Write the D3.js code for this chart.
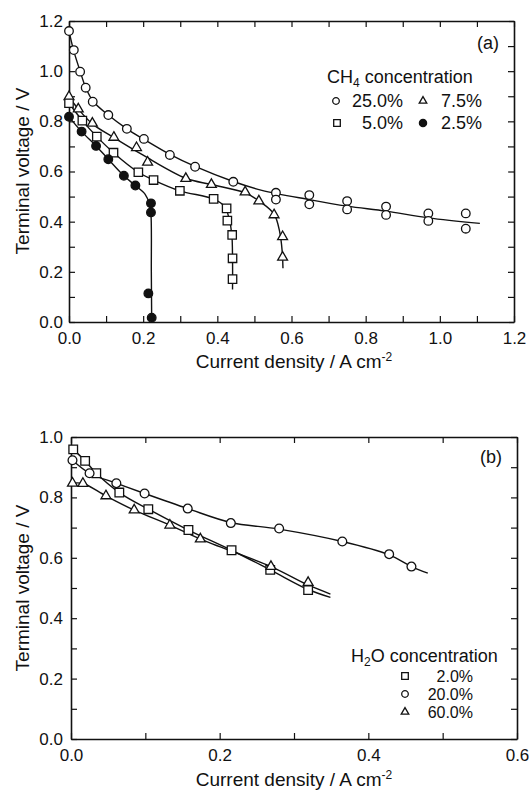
<!DOCTYPE html>
<html>
<head>
<meta charset="utf-8">
<script src="https://cdn.jsdelivr.net/npm/d3@7/dist/d3.min.js"></script>
<style>
body { margin: 0; background: #fff; }
text { font-family: "Liberation Sans", Arial, Helvetica, sans-serif; fill: #111; }
</style>
</head>
<body>
<script>
// ---- panel (a): CH4 concentration ----
var a250x = [0.0, 0.013, 0.030, 0.045, 0.064, 0.106, 0.156, 0.202, 0.272, 0.340, 0.443,
             0.558, 0.558, 0.648, 0.648, 0.750, 0.750, 0.855, 0.855, 0.969, 0.969, 1.070, 1.070];
var a250y = [1.160, 1.084, 0.998, 0.934, 0.878, 0.825, 0.770, 0.730, 0.666, 0.619, 0.559,
             0.515, 0.488, 0.506, 0.469, 0.482, 0.449, 0.460, 0.427, 0.433, 0.403, 0.433, 0.372];
var a250fitx = [0.0, 0.013, 0.030, 0.045, 0.065, 0.106, 0.156, 0.202, 0.272, 0.340, 0.443, 0.520, 0.648, 0.750, 0.855, 0.969, 1.108];
var a250fity = [1.160, 1.080, 1.000, 0.935, 0.880, 0.825, 0.770, 0.728, 0.668, 0.620, 0.560, 0.525, 0.488, 0.462, 0.442, 0.415, 0.393];

var a75x = [0.0, 0.025, 0.063, 0.121, 0.182, 0.212, 0.315, 0.384, 0.475, 0.512, 0.553, 0.576, 0.576];
var a75y = [0.898, 0.849, 0.792, 0.736, 0.695, 0.637, 0.572, 0.548, 0.518, 0.482, 0.427, 0.340, 0.258];
var a75fitx = [0.0, 0.025, 0.063, 0.121, 0.200, 0.315, 0.384, 0.475, 0.515, 0.553, 0.568, 0.575, 0.577];
var a75fity = [0.898, 0.849, 0.790, 0.735, 0.665, 0.573, 0.548, 0.515, 0.480, 0.430, 0.360, 0.280, 0.214];

var a50x = [0.0, 0.036, 0.075, 0.120, 0.187, 0.228, 0.299, 0.390, 0.425, 0.427, 0.440, 0.441, 0.441];
var a50y = [0.872, 0.803, 0.739, 0.675, 0.597, 0.566, 0.523, 0.491, 0.453, 0.404, 0.347, 0.254, 0.171];
var a50fitx = [0.0, 0.036, 0.075, 0.120, 0.187, 0.228, 0.299, 0.390, 0.420, 0.432, 0.439, 0.441, 0.441];
var a50fity = [0.872, 0.803, 0.739, 0.675, 0.597, 0.566, 0.523, 0.490, 0.460, 0.410, 0.350, 0.250, 0.130];

var a25x = [0.0, 0.034, 0.073, 0.106, 0.148, 0.179, 0.221, 0.221, 0.214, 0.223];
var a25y = [0.818, 0.759, 0.702, 0.649, 0.583, 0.544, 0.473, 0.437, 0.114, 0.017];
var a25fitx = [0.0, 0.034, 0.073, 0.106, 0.148, 0.179, 0.205, 0.217, 0.221, 0.222, 0.223];
var a25fity = [0.818, 0.759, 0.702, 0.649, 0.583, 0.544, 0.510, 0.470, 0.430, 0.200, 0.0];

var aXTicks = [0, 0.1, 0.2, 0.3, 0.4, 0.5, 0.6, 0.7, 0.8, 0.9, 1.0, 1.1, 1.2];
var aXLabels = ['0.0', '', '0.2', '', '0.4', '', '0.6', '', '0.8', '', '1.0', '', '1.2'];
var aYTicks = [0, 0.1, 0.2, 0.3, 0.4, 0.5, 0.6, 0.7, 0.8, 0.9, 1.0, 1.1, 1.2];
var aYLabels = ['0.0', '', '0.2', '', '0.4', '', '0.6', '', '0.8', '', '1.0', '', '1.2'];

// ---- panel (b): H2O concentration ----
var b2x = [0.003, 0.019, 0.034, 0.065, 0.104, 0.158, 0.216, 0.268, 0.319];
var b2y = [0.959, 0.921, 0.880, 0.816, 0.761, 0.692, 0.625, 0.560, 0.493];
var b2fitx = [0.003, 0.019, 0.034, 0.065, 0.104, 0.158, 0.216, 0.268, 0.319, 0.349];
var b2fity = [0.959, 0.921, 0.880, 0.816, 0.761, 0.692, 0.625, 0.560, 0.495, 0.469];

var b20x = [0.002, 0.025, 0.061, 0.099, 0.157, 0.215, 0.280, 0.365, 0.428, 0.458];
var b20y = [0.923, 0.880, 0.847, 0.813, 0.763, 0.715, 0.697, 0.654, 0.612, 0.571];
var b20fitx = [0.002, 0.025, 0.061, 0.099, 0.157, 0.215, 0.280, 0.365, 0.428, 0.458, 0.480];
var b20fity = [0.923, 0.880, 0.847, 0.813, 0.763, 0.717, 0.695, 0.654, 0.610, 0.571, 0.549];

var b60x = [0.002, 0.016, 0.047, 0.085, 0.133, 0.174, 0.269, 0.319];
var b60y = [0.847, 0.846, 0.805, 0.758, 0.708, 0.662, 0.571, 0.518];
var b60fitx = [0.002, 0.016, 0.047, 0.085, 0.133, 0.174, 0.269, 0.319, 0.349];
var b60fity = [0.847, 0.846, 0.805, 0.758, 0.708, 0.662, 0.571, 0.510, 0.480];

var bXTicks = [0, 0.1, 0.2, 0.3, 0.4, 0.5, 0.6];
var bXLabels = ['0.0', '', '0.2', '', '0.4', '', '0.6'];
var bYTicks = [0, 0.1, 0.2, 0.3, 0.4, 0.5, 0.6, 0.7, 0.8, 0.9, 1.0];
var bYLabels = ['0.0', '', '0.2', '', '0.4', '', '0.6', '', '0.8', '', '1.0'];

function zip(xs, ys) { return xs.map(function(v, i) { return [v, ys[i]]; }); }

var svg = d3.select('body')
    .append('svg')
    .attr('width', 532)
    .attr('height', 791);

function drawPanel(box, xMax, yMax, xTicks, xLabels, yTicks, yLabels, yPad) {
    var x = d3.scaleLinear().domain([0, xMax]).range([box.left, box.right]);
    var y = d3.scaleLinear().domain([0, yMax]).range([box.bottom, box.top]);

    function label(labels, ticks) {
        return function(d) { return labels[ticks.indexOf(d)]; };
    }

    var axes = [
        { a: d3.axisBottom(x).tickValues(xTicks).tickFormat(label(xLabels, xTicks)).tickPadding(10), t: 'translate(0,' + box.bottom + ')' },
        { a: d3.axisTop(x).tickValues(xTicks).tickFormat(''), t: 'translate(0,' + box.top + ')' },
        { a: d3.axisLeft(y).tickValues(yTicks).tickFormat(label(yLabels, yTicks)).tickPadding(yPad), t: 'translate(' + box.left + ',0)' },
        { a: d3.axisRight(y).tickValues(yTicks).tickFormat(''), t: 'translate(' + box.right + ',0)' }
    ];
    axes.forEach(function(o) {
        var g = svg.append('g')
            .attr('transform', o.t)
            .call(o.a.tickSizeInner(-6).tickSizeOuter(0));
        g.select('.domain').attr('stroke', '#111').attr('stroke-width', 1.6);
        g.selectAll('.tick line').attr('stroke', '#111').attr('stroke-width', 1.2);
        g.selectAll('.tick text')
            .attr('fill', '#111')
            .style('font', '17px "Liberation Sans", Arial, sans-serif');
    });
    return { x: x, y: y };
}

var line = function(sc) {
    return d3.line()
        .x(function(d) { return sc.x(d[0]); })
        .y(function(d) { return sc.y(d[1]); })
        .curve(d3.curveCatmullRom.alpha(0.5));
};

function drawFit(sc, pts) {
    svg.append('path')
        .datum(pts)
        .attr('d', line(sc))
        .attr('fill', 'none')
        .attr('stroke', '#111')
        .attr('stroke-width', 1.4);
}

function marker(sel, kind, size) {
    if (kind === 'circle' || kind === 'dot') {
        sel.append('circle')
            .attr('r', size)
            .attr('fill', kind === 'dot' ? '#111' : '#fff')
            .attr('stroke', '#111')
            .attr('stroke-width', 1.3);
    } else {
        var type = kind === 'square' ? d3.symbolSquare : d3.symbolTriangle;
        var area = kind === 'square' ? Math.pow(size * 2, 2) : Math.pow(size * 2.3, 2) * Math.sqrt(3) / 4;
        sel.append('path')
            .attr('d', d3.symbol().type(type).size(area)())
            .attr('fill', '#fff')
            .attr('stroke', '#111')
            .attr('stroke-width', 1.3);
    }
}

function drawPoints(sc, pts, kind, size) {
    svg.append('g').selectAll('g')
        .data(pts)
        .enter()
        .append('g')
        .attr('transform', function(d) { return 'translate(' + sc.x(d[0]) + ',' + sc.y(d[1]) + ')'; })
        .each(function() { marker(d3.select(this), kind, size); });
}

function addText(x, y, str, size, anchor) {
    return svg.append('text')
        .attr('x', x).attr('y', y)
        .attr('text-anchor', anchor || 'start')
        .style('font-size', size + 'px')
        .text(str);
}

function xTitle(cx, y) {
    var t = svg.append('text')
        .attr('x', cx).attr('y', y)
        .attr('text-anchor', 'middle')
        .style('font-size', '19px');
    t.append('tspan').text('Current density / A cm');
    t.append('tspan').attr('dy', -7).style('font-size', '12px').text('-2');
}

function yTitle(x, cy) {
    svg.append('text')
        .attr('transform', 'translate(' + x + ',' + cy + ') rotate(-90)')
        .attr('text-anchor', 'middle')
        .style('font-size', '19px')
        .text('Terminal voltage / V');
}

// ---------- panel (a) ----------
var scA = drawPanel({ left: 69, right: 514, top: 21, bottom: 322 }, 1.2, 1.2,
                    aXTicks, aXLabels, aYTicks, aYLabels, 6);

drawFit(scA, zip(a250fitx, a250fity));
drawFit(scA, zip(a75fitx, a75fity));
drawFit(scA, zip(a50fitx, a50fity));
drawFit(scA, zip(a25fitx, a25fity));
drawPoints(scA, zip(a250x, a250y), 'circle', 4.3);
drawPoints(scA, zip(a75x, a75y), 'triangle', 4.3);
drawPoints(scA, zip(a50x, a50y), 'square', 4.2);
drawPoints(scA, zip(a25x, a25y), 'dot', 4.3);

xTitle(294, 368);
yTitle(29, 171);
addText(499, 49, '(a)', 18, 'end');

var legA = svg.append('text').attr('x', 327).attr('y', 83).style('font-size', '18px');
legA.append('tspan').text('CH');
legA.append('tspan').attr('dy', 4).style('font-size', '12px').text('4');
legA.append('tspan').attr('dy', -4).text(' concentration');

var legAItems = [
    { kind: 'circle', label: '25.0%', sx: 336, tx: 403, y: 107 },
    { kind: 'triangle', label: '7.5%', sx: 423, tx: 482, y: 107 },
    { kind: 'square', label: '5.0%', sx: 337, tx: 403, y: 129 },
    { kind: 'dot', label: '2.5%', sx: 423, tx: 482, y: 129 }
];
legAItems.forEach(function(d) {
    var g = svg.append('g').attr('transform', 'translate(' + d.sx + ',' + (d.y - 6) + ')');
    marker(g, d.kind, d.kind === 'dot' ? 3.6 : 3.3);
    addText(d.tx, d.y, d.label, 18, 'end');
});

// ---------- panel (b) ----------
var scB = drawPanel({ left: 71, right: 517, top: 437, bottom: 739 }, 0.6, 1.0,
                    bXTicks, bXLabels, bYTicks, bYLabels, 8);

drawFit(scB, zip(b2fitx, b2fity));
drawFit(scB, zip(b20fitx, b20fity));
drawFit(scB, zip(b60fitx, b60fity));
drawPoints(scB, zip(b2x, b2y), 'square', 4.3);
drawPoints(scB, zip(b20x, b20y), 'circle', 4.4);
drawPoints(scB, zip(b60x, b60y), 'triangle', 4.3);

xTitle(294, 786);
yTitle(29, 588);
addText(502, 463, '(b)', 18, 'end');

var legB = svg.append('text').attr('x', 351).attr('y', 662).style('font-size', '18px');
legB.append('tspan').text('H');
legB.append('tspan').attr('dy', 4).style('font-size', '12px').text('2');
legB.append('tspan').attr('dy', -4).text('O concentration');

var legBItems = [
    { kind: 'square', label: '2.0%', y: 682 },
    { kind: 'circle', label: '20.0%', y: 700 },
    { kind: 'triangle', label: '60.0%', y: 718 }
];
legBItems.forEach(function(d) {
    var g = svg.append('g').attr('transform', 'translate(405,' + (d.y - 6) + ')');
    marker(g, d.kind, 3.3);
    addText(473, d.y, d.label, 16, 'end');
});
</script>
</body>
</html>
